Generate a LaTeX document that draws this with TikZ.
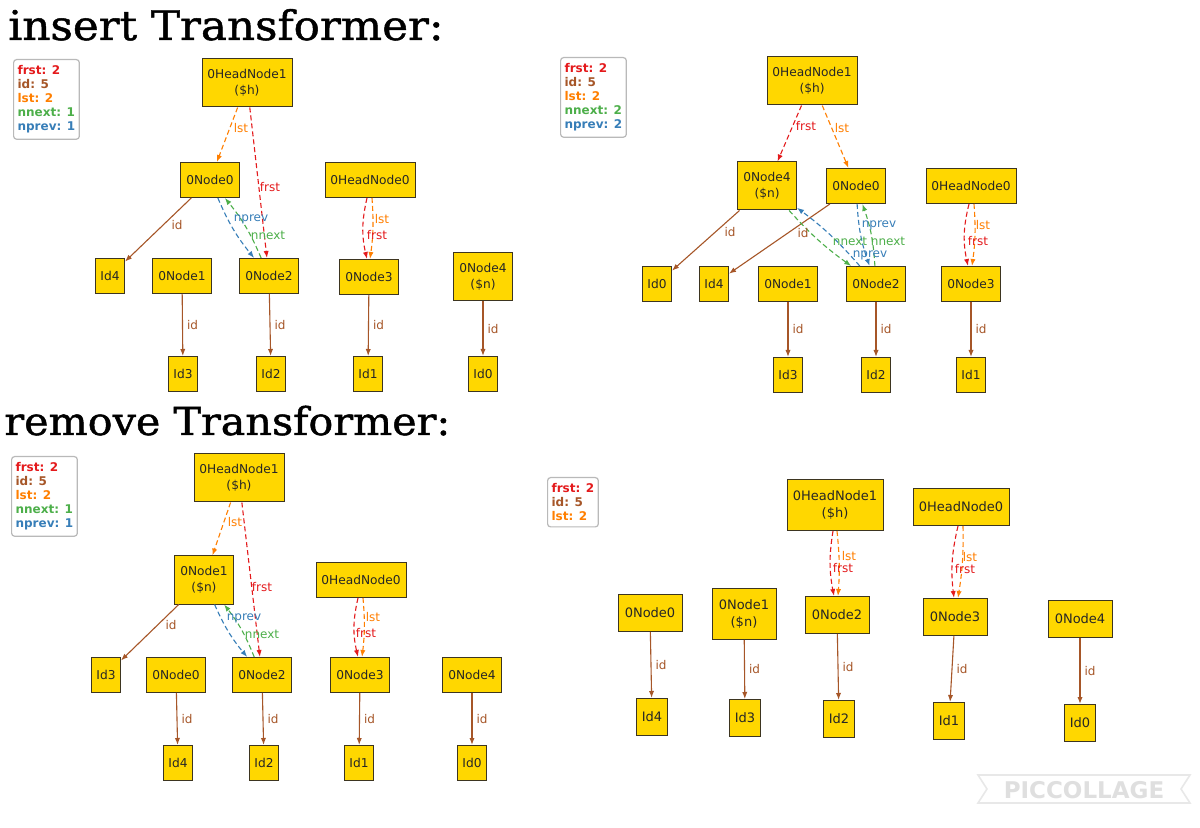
\documentclass[tikz,border=0pt]{standalone}
\usepackage{fontspec}
\usetikzlibrary{arrows.meta,positioning}

\newfontfamily\dejavu{DejaVu Sans}
\newfontfamily\titlefont[FakeStretch=1.07,FakeBold=1.2]{DejaVu Serif}
\newcommand\nodefont{\dejavu\fontsize{6.1}{8}\selectfont}
\newcommand\bignodefont{\dejavu\fontsize{6.5}{8.5}\selectfont}
\newcommand\lblfont{\dejavu\fontsize{6}{7}\selectfont}
\newcommand\legfont{\dejavu\bfseries\fontsize{6}{7}\selectfont}

\definecolor{frc}{HTML}{E41A1C}
\definecolor{idc}{HTML}{A65628}
\definecolor{lstc}{HTML}{FF7F00}
\definecolor{nxc}{HTML}{4DAF4A}
\definecolor{npc}{HTML}{377EB8}
\definecolor{nodefill}{HTML}{FFD700}
\definecolor{nodeline}{HTML}{3D3520}

\begin{document}
\begin{tikzpicture}[x=0.5pt,y=-0.5pt,
	box/.style={draw=nodeline, fill=nodefill, line width=0.5pt, inner sep=0pt, align=center, text=black!85, font=\nodefont},
	obj/.style={box, minimum width=29.5pt, minimum height=17.5pt},
	objtwo/.style={box, minimum width=29.5pt, minimum height=24pt},
	head/.style={box, minimum width=45pt, minimum height=17.5pt},
	headtwo/.style={box, minimum width=45pt, minimum height=24pt},
	idb/.style={box, minimum width=14.5pt, minimum height=17.5pt},
	legend/.style={draw=gray!55, fill=white, rounded corners=1.5pt, line width=0.6pt, align=left, anchor=north west, inner xsep=2pt, inner ysep=3pt, font=\legfont},
	lbl/.style={font=\lblfont, inner sep=1pt},
	lid/.style={lbl, text=idc},
	lfr/.style={lbl, text=frc},
	llst/.style={lbl, text=lstc},
	lnx/.style={lbl, text=nxc},
	lnp/.style={lbl, text=npc},
	conn/.style={line width=0.55pt, -{Latex[length=3.5pt,width=2.6pt]}},
	idl/.style={conn, draw=idc},
	dsh/.style={conn, dash pattern=on 2.5pt off 1.5pt},
	frl/.style={dsh, draw=frc},
	lsl/.style={dsh, draw=lstc},
	nxl/.style={dsh, draw=nxc},
	npl/.style={dsh, draw=npc},
	title/.style={font=\titlefont\fontsize{#1}{22}\selectfont, anchor=base west, inner sep=0pt}]

	\fill[white] (0,0) rectangle (1200,828);
	\useasboundingbox (0,0) rectangle (1200,828);

	% insert Transformer, left
	\node[title=20.4] (ttl1) at (8,40) {insert Transformer:};
	\node[legend] (leg1) at (13,59) {\textcolor{frc}{frst: 2}\\\textcolor{idc}{id: 5}\\\textcolor{lstc}{lst: 2}\\\textcolor{nxc}{nnext: 1}\\\textcolor{npc}{nprev: 1}};

	\node[headtwo] (h1a) at (247,83) {0HeadNode1\\(\$h)};
	\node[obj] (n0a) at (210,180) {0Node0};
	\node[head] (h0a) at (370,180) {0HeadNode0};
	\node[idb] (i4a) at (110,276) {Id4};
	\node[obj] (n1a) at (182,276) {0Node1};
	\node[obj] (n2a) at (269,276) {0Node2};
	\node[obj] (n3a) at (369,277) {0Node3};
	\node[objtwo] (n4a) at (483,277) {0Node4\\(\$n)};
	\node[idb] (i3a) at (183,374) {Id3};
	\node[idb] (i2a) at (271,374) {Id2};
	\node[idb] (i1a) at (368,374) {Id1};
	\node[idb] (i0a) at (483,374) {Id0};

	\draw[lsl] (h1a) -- (n0a);
	\draw[frl] (h1a) -- (n2a);
	\draw[idl] (n0a) -- (i4a);
	\draw[npl] (n0a) to[bend right=8] (n2a);
	\draw[nxl] (n2a) to[bend right=8] (n0a);
	\draw[frl] ([xshift=-1.5pt]h0a.south) to[bend right=13] ([xshift=-1pt]n3a.north);
	\draw[lsl] ([xshift=1pt]h0a.south) to[bend left=6] ([xshift=0.5pt]n3a.north);
	\foreach \a/\b in {n1a/i3a, n2a/i2a, n3a/i1a, n4a/i0a}
		\draw[idl] (\a) -- (\b) node[lid, midway, right=1pt] {id};

	\node[llst] (la1) at (241,128) {lst};
	\node[lfr] (la2) at (270,187) {frst};
	\node[lid] (la3) at (177,225) {id};
	\node[lnp] (la4) at (251,219) {nprev};
	\node[lnx] (la5) at (268,235) {nnext};
	\node[llst] (la6) at (382,219) {lst};
	\node[lfr] (la7) at (377,235) {frst};

	% insert Transformer, right
	\node[legend] (leg2) at (560,57) {\textcolor{frc}{frst: 2}\\\textcolor{idc}{id: 5}\\\textcolor{lstc}{lst: 2}\\\textcolor{nxc}{nnext: 2}\\\textcolor{npc}{nprev: 2}};

	\node[headtwo] (h1b) at (812,81) {0HeadNode1\\(\$h)};
	\node[objtwo] (n4b) at (767,186) {0Node4\\(\$n)};
	\node[obj] (n0b) at (856,186) {0Node0};
	\node[head] (h0b) at (971,186) {0HeadNode0};
	\node[idb] (i0b) at (657,284) {Id0};
	\node[idb] (i4b) at (714,284) {Id4};
	\node[obj] (n1b) at (788,284) {0Node1};
	\node[obj] (n2b) at (876,284) {0Node2};
	\node[obj] (n3b) at (971,284) {0Node3};
	\node[idb] (i3b) at (788,375) {Id3};
	\node[idb] (i2b) at (876,375) {Id2};
	\node[idb] (i1b) at (971,375) {Id1};

	\draw[frl] (h1b) -- (n4b);
	\draw[lsl] (h1b) -- (n0b);
	\draw[idl] (n4b) -- (i0b);
	\draw[idl] (n0b) -- (i4b);
	\draw[nxl] (n4b) to[bend right=6] (n2b);
	\draw[npl] (n2b) to[bend right=6] (n4b);
	\draw[npl] (n0b) to[bend right=8] (n2b);
	\draw[nxl] (n2b) to[bend right=8] (n0b);
	\draw[frl] ([xshift=-1pt]h0b.south) to[bend right=13] ([xshift=-1.5pt]n3b.north);
	\draw[lsl] ([xshift=1.5pt]h0b.south) to[bend left=6] ([xshift=0.5pt]n3b.north);
	\foreach \a/\b in {n1b/i3b, n2b/i2b, n3b/i1b}
		\draw[idl] (\a) -- (\b) node[lid, midway, right=1pt] {id};

	\node[lfr] (lb1) at (806,126) {frst};
	\node[llst] (lb2) at (842,128) {lst};
	\node[lid] (lb3) at (730,232) {id};
	\node[lid] (lb4) at (803,233) {id};
	\node[lnx] (lb5) at (850,241) {nnext};
	\node[lnp] (lb6) at (870,255) {nprev};
	\node[lnp] (lb7) at (879,225) {nprev};
	\node[lnx] (lb8) at (888,241) {nnext};
	\node[llst] (lb9) at (983,225) {lst};
	\node[lfr] (lb10) at (978,241) {frst};

	% remove Transformer, left
	\node[title=19.3] (ttl2) at (4,435) {remove Transformer:};
	\node[legend] (leg3) at (11,456) {\textcolor{frc}{frst: 2}\\\textcolor{idc}{id: 5}\\\textcolor{lstc}{lst: 2}\\\textcolor{nxc}{nnext: 1}\\\textcolor{npc}{nprev: 1}};

	\node[headtwo] (h1c) at (239,478) {0HeadNode1\\(\$h)};
	\node[objtwo] (n1c) at (204,580) {0Node1\\(\$n)};
	\node[head] (h0c) at (361,580) {0HeadNode0};
	\node[idb] (i3c) at (106,675) {Id3};
	\node[obj] (n0c) at (176,675) {0Node0};
	\node[obj] (n2c) at (262,675) {0Node2};
	\node[obj] (n3c) at (360,675) {0Node3};
	\node[obj] (n4c) at (472,675) {0Node4};
	\node[idb] (i4c) at (178,763) {Id4};
	\node[idb] (i2c) at (264,763) {Id2};
	\node[idb] (i1c) at (359,763) {Id1};
	\node[idb] (i0c) at (472,763) {Id0};

	\draw[lsl] (h1c) -- (n1c);
	\draw[frl] (h1c) -- (n2c);
	\draw[idl] (n1c) -- (i3c);
	\draw[npl] (n1c) to[bend right=8] (n2c);
	\draw[nxl] (n2c) to[bend right=8] (n1c);
	\draw[frl] ([xshift=-1.5pt]h0c.south) to[bend right=13] ([xshift=-1pt]n3c.north);
	\draw[lsl] ([xshift=1pt]h0c.south) to[bend left=6] ([xshift=1pt]n3c.north);
	\foreach \a/\b in {n0c/i4c, n2c/i2c, n3c/i1c, n4c/i0c}
		\draw[idl] (\a) -- (\b) node[lid, midway, right=1pt] {id};

	\node[llst] (lc1) at (235,522) {lst};
	\node[lfr] (lc2) at (262,587) {frst};
	\node[lid] (lc3) at (171,625) {id};
	\node[lnp] (lc4) at (244,618) {nprev};
	\node[lnx] (lc5) at (262,634) {nnext};
	\node[llst] (lc6) at (373,617) {lst};
	\node[lfr] (lc7) at (366,633) {frst};

	% remove Transformer, right
	\begin{scope}[
		obj/.style={box, font=\bignodefont, minimum width=32pt, minimum height=18.5pt},
		objtwo/.style={box, font=\bignodefont, minimum width=32pt, minimum height=25.5pt},
		head/.style={box, font=\bignodefont, minimum width=48pt, minimum height=18.5pt},
		headtwo/.style={box, font=\bignodefont, minimum width=48pt, minimum height=25.5pt},
		idb/.style={box, font=\bignodefont, minimum width=15.5pt, minimum height=18.5pt}]

	\node[legend] (leg4) at (547,477) {\textcolor{frc}{frst: 2}\\\textcolor{idc}{id: 5}\\\textcolor{lstc}{lst: 2}};

	\node[headtwo] (h1d) at (835,505) {0HeadNode1\\(\$h)};
	\node[head] (h0d) at (961,507) {0HeadNode0};
	\node[obj] (n0d) at (650,613) {0Node0};
	\node[objtwo] (n1d) at (744,614) {0Node1\\(\$n)};
	\node[obj] (n2d) at (837,615) {0Node2};
	\node[obj] (n3d) at (955,617) {0Node3};
	\node[obj] (n4d) at (1080,619) {0Node4};
	\node[idb] (i4d) at (652,717) {Id4};
	\node[idb] (i3d) at (745,718) {Id3};
	\node[idb] (i2d) at (839,719) {Id2};
	\node[idb] (i1d) at (949,721) {Id1};
	\node[idb] (i0d) at (1080,723) {Id0};

	\draw[frl] ([xshift=-1pt]h1d.south) to[bend right=10] ([xshift=-1.5pt]n2d.north);
	\draw[lsl] ([xshift=1pt]h1d.south) to[bend left=5] ([xshift=0.5pt]n2d.north);
	\draw[frl] ([xshift=-1.5pt]h0d.south) to[bend right=10] ([xshift=-0.5pt]n3d.north);
	\draw[lsl] ([xshift=1pt]h0d.south) to[bend left=5] ([xshift=1.5pt]n3d.north);
	\foreach \a/\b in {n0d/i4d, n1d/i3d, n2d/i2d, n3d/i1d, n4d/i0d}
		\draw[idl] (\a) -- (\b) node[lid, midway, right=1pt] {id};

	\node[llst] (ld1) at (849,556) {lst};
	\node[lfr] (ld2) at (843,568) {frst};
	\node[llst] (ld3) at (970,557) {lst};
	\node[lfr] (ld4) at (965,569) {frst};
	\end{scope}

	% watermark
	\draw[gray!18, line width=0.8pt, fill=white] (978,775) -- (1190,775) -- (1181,789) -- (1190,803) -- (978,803) -- (987,789) -- cycle;
	\node[font=\dejavu\bfseries\fontsize{11.5}{12}\selectfont, text=gray!25, inner sep=0pt] (wm) at (1084,790) {PICCOLLAGE};
\end{tikzpicture}
\end{document}
